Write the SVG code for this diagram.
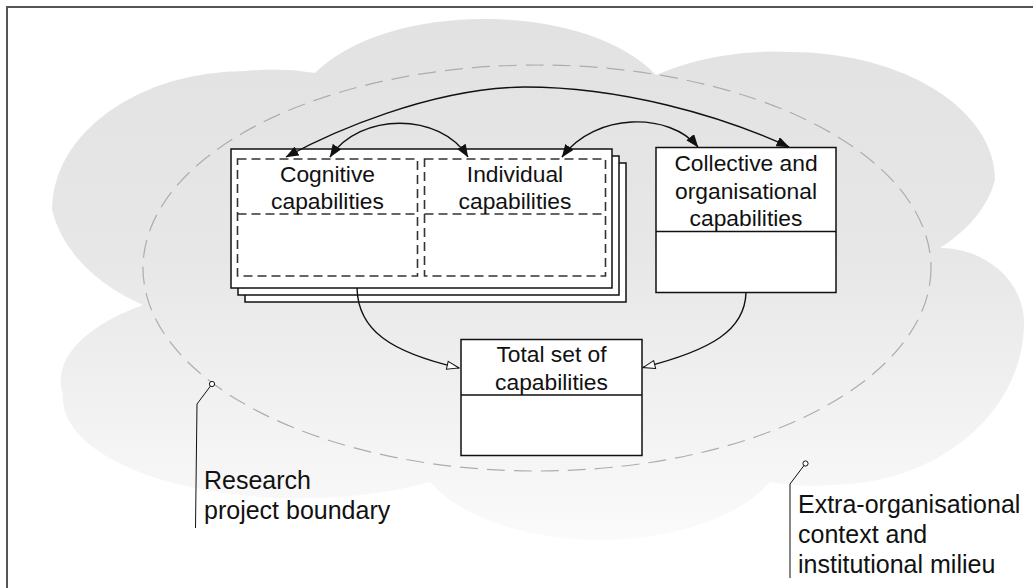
<svg xmlns="http://www.w3.org/2000/svg" width="1033" height="588" viewBox="0 0 1033 588">
<style>
.box{fill:#fff;stroke:#111;stroke-width:1.5}
.dash{fill:none;stroke:#333;stroke-width:1.6;stroke-dasharray:9 5}
.t{font-family:"Liberation Sans",Arial,Helvetica,sans-serif;font-size:22.8px;fill:#111;text-anchor:middle}
.lab{font-family:"Liberation Sans",Arial,Helvetica,sans-serif;font-size:25px;fill:#111}
.conn{fill:none;stroke:#111;stroke-width:1.4}
.lead{fill:none;stroke:#111;stroke-width:1}
</style>
<defs>
<linearGradient id="cloudGrad" x1="0" y1="20" x2="0" y2="545" gradientUnits="userSpaceOnUse">
<stop offset="0" stop-color="#e2e2e2"/>
<stop offset="0.45" stop-color="#e7e7e7"/>
<stop offset="1" stop-color="#fbfbfb"/>
</linearGradient>
<marker id="arrFilled" viewBox="0 0 13 10" refX="12.5" refY="5" markerWidth="13" markerHeight="10" markerUnits="userSpaceOnUse" orient="auto-start-reverse">
<path d="M0,0 L13,5 L0,10 Z" fill="#111"/>
</marker>
<marker id="arrOpen" viewBox="0 0 14 10" refX="13" refY="5" markerWidth="14" markerHeight="10" markerUnits="userSpaceOnUse" orient="auto">
<path d="M1,1 L13,5 L1,9 Z" fill="#fff" stroke="#111" stroke-width="1"/>
</marker>
</defs>

<rect x="7" y="7" width="1100" height="700" fill="#fff" stroke="#555" stroke-width="2"/>

<g id="context-cloud">
<path fill="url(#cloudGrad)" d="M143,305 A193,139 0 0 1 52,210 A193,139 0 0 1 245,71 A193,139 0 0 1 315,73 A190,100 0 0 1 487,19 A190,100 0 0 1 656,75 A205,128 0 0 1 790,52 A205,128 0 0 1 995,180 A205,128 0 0 1 940,248 A84,75 0 0 1 1024,323 A194,162 0 0 1 830,485 A194,162 0 0 1 770,482 A187,100 0 0 1 600,540 A187,100 0 0 1 430,482 A237,100 0 0 1 63,395 A237,100 0 0 1 143,305 Z"/>
</g>

<g id="research-boundary">
<ellipse cx="537" cy="268" rx="394" ry="203" fill="none" stroke="#adadad" stroke-width="1.2" stroke-dasharray="18 9"/>
</g>

<g id="stacked-capabilities">
<rect class="box" x="245" y="163" width="381" height="139"/>
<rect class="box" x="238" y="156" width="381" height="139"/>
<rect class="box" x="231" y="149" width="381" height="139"/>
</g>

<g id="cognitive">
<rect class="dash" x="237.5" y="159" width="180" height="117"/>
<line class="dash" x1="237.5" y1="214" x2="417.5" y2="214"/>
<text class="t" x="327.5" y="182">Cognitive</text>
<text class="t" x="327.5" y="209">capabilities</text>
</g>

<g id="individual">
<rect class="dash" x="424.5" y="159" width="181" height="117"/>
<line class="dash" x1="424.5" y1="214" x2="605.5" y2="214"/>
<text class="t" x="515" y="182">Individual</text>
<text class="t" x="515" y="209">capabilities</text>
</g>

<g id="collective">
<rect class="box" x="656" y="147.5" width="180" height="145"/>
<line class="box" x1="656" y1="231.5" x2="836" y2="231.5"/>
<text class="t" x="746" y="171">Collective and</text>
<text class="t" x="746" y="198.5">organisational</text>
<text class="t" x="746" y="225.5">capabilities</text>
</g>

<g id="total">
<rect class="box" x="461" y="339.5" width="181" height="116"/>
<line class="box" x1="461" y1="395" x2="642" y2="395"/>
<text class="t" x="551.5" y="362">Total set of</text>
<text class="t" x="551.5" y="389.5">capabilities</text>
</g>

<g id="connectors">
<path class="conn" marker-start="url(#arrFilled)" marker-end="url(#arrFilled)" d="M286,157 C330,133 430,88 525,87 C620,87 720,115 789,147"/>
<path class="conn" marker-start="url(#arrFilled)" marker-end="url(#arrFilled)" d="M330,157 C360,112 440,112 468,157"/>
<path class="conn" marker-start="url(#arrFilled)" marker-end="url(#arrFilled)" d="M562,157 C595,112 670,112 698,147"/>
<path class="conn" marker-end="url(#arrOpen)" d="M357,288 C358,330 390,352 459,368"/>
<path class="conn" marker-end="url(#arrOpen)" d="M746,292.5 C745,330 712,350 643,367.5"/>
</g>

<g id="label-research">
<circle cx="212" cy="384" r="2.6" fill="#fff" stroke="#111" stroke-width="1"/>
<path class="lead" d="M210.5,386 L197,404 L195.5,528"/>
<text class="lab" x="204" y="489">Research</text>
<text class="lab" x="204" y="518.5">project boundary</text>
</g>

<g id="label-context">
<circle cx="805.5" cy="463.5" r="2.6" fill="#fff" stroke="#111" stroke-width="1"/>
<path class="lead" d="M804,465.5 L790,484 L790,578"/>
<text class="lab" x="798" y="513">Extra-organisational</text>
<text class="lab" x="798" y="543">context and</text>
<text class="lab" x="798" y="573">institutional milieu</text>
</g>
</svg>
